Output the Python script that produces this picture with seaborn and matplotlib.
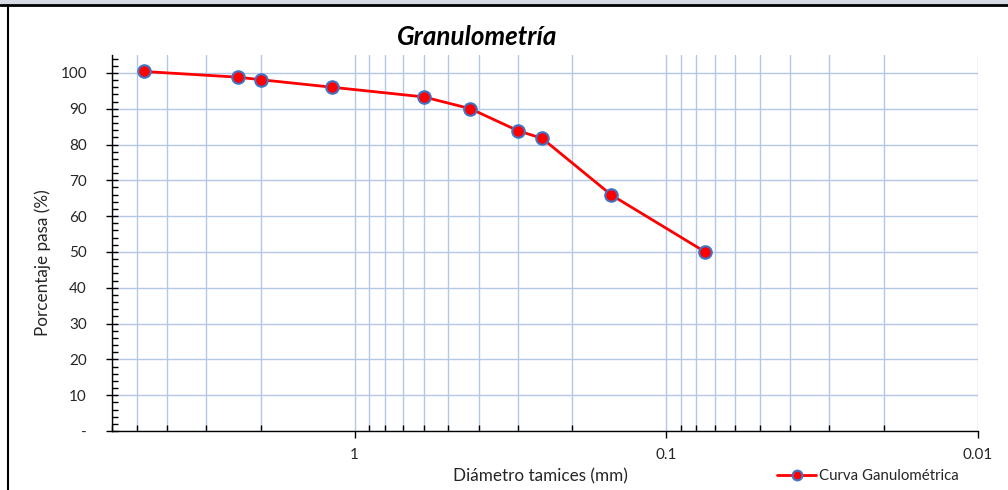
import numpy as np
import pandas as pd
import matplotlib
matplotlib.use("Agg")
import matplotlib.pyplot as plt
import matplotlib.ticker as mticker
from matplotlib.patches import Rectangle
from matplotlib.lines import Line2D
import seaborn as sns

# ---- data ----
diametro_mm = [4.75, 2.36, 2.00, 1.18, 0.60, 0.425, 0.30, 0.25, 0.15, 0.075]
porcentaje_pasa = [100.4, 98.8, 98.1, 96.0, 93.3, 90.0, 83.9, 81.7, 65.9, 50.0]
serie = "Curva Ganulométrica"
titulo = "Granulometría"
xlabel = "Diámetro tamices (mm)"
ylabel = "Porcentaje pasa (%)"
x_major = [1, 0.1, 0.01]
x_major_labels = ["1", "0.1", "0.01"]
y_major = [0, 10, 20, 30, 40, 50, 60, 70, 80, 90, 100]
y_major_labels = ["-", "10", "20", "30", "40", "50", "60", "70", "80", "90", "100"]

df = pd.DataFrame({"d": diametro_mm, "p": porcentaje_pasa, "serie": serie})

sns.set_theme(style="white")
plt.rcParams["font.family"] = ["Lato", "DejaVu Sans"]

W, H = 1008, 490
fig = plt.figure(figsize=(W / 100, H / 100), dpi=100)
ax = fig.add_axes([112 / W, 59 / H, 866 / W, 376 / H])

grid_c = "#B4C7E7"
red = "#FF0000"
edge = "#4472C4"
txt = "#262626"

sns.lineplot(data=df, x="d", y="p", ax=ax, color=red, linewidth=2.0,
             marker="o", markersize=9, markerfacecolor=red,
             markeredgecolor=edge, markeredgewidth=1.5, legend=False,
             zorder=5, sort=False)

ax.set_xscale("log")
ax.set_xlim(6.0, 0.01)
ax.set_ylim(0, 105)

ax.xaxis.set_major_locator(mticker.FixedLocator(x_major))
ax.xaxis.set_major_formatter(mticker.FixedFormatter(x_major_labels))
ax.xaxis.set_minor_locator(mticker.LogLocator(base=10, subs=np.arange(2, 10), numticks=20))
ax.xaxis.set_minor_formatter(mticker.NullFormatter())

ax.yaxis.set_major_locator(mticker.FixedLocator(y_major))
ax.yaxis.set_major_formatter(mticker.FixedFormatter(y_major_labels))
ax.yaxis.set_minor_locator(mticker.MultipleLocator(2))

ax.grid(True, which="major", axis="both", color=grid_c, linewidth=1.0)
ax.grid(True, which="minor", axis="x", color=grid_c, linewidth=1.0)
ax.set_axisbelow(True)

for s in ["top", "right"]:
    ax.spines[s].set_visible(False)
for s in ["left", "bottom"]:
    ax.spines[s].set_color("black")
    ax.spines[s].set_linewidth(1.0)

ax.tick_params(axis="x", which="major", direction="out", length=5, width=1,
               color="black", labelsize=11, labelcolor=txt, pad=7,
               bottom=True)
ax.tick_params(axis="x", which="minor", direction="in", length=4, width=1,
               color="black", bottom=True)
ax.tick_params(axis="y", which="major", direction="inout", length=8, width=1,
               color="black", labelsize=11, labelcolor=txt, pad=14,
               left=True)
ax.tick_params(axis="y", which="minor", direction="in", length=4, width=1,
               color="black", left=True)

ax.set_xlabel(xlabel, fontsize=12.3, color=txt)
ax.set_ylabel(ylabel, fontsize=12.3, color=txt)
ax.xaxis.set_label_coords((540 - 112) / 866, (431 - 476) / 376)
ax.xaxis.label.set_va("center")
ax.yaxis.set_label_coords((43 - 112) / 866, (431 - 263) / 376)
ax.yaxis.label.set_va("center")

fig.text(477 / W, (H - 37) / H, titulo, ha="center", va="center",
         fontsize=18.7, fontweight="bold", fontstyle="italic", color="black")

handle = Line2D([], [], color=red, linewidth=2.0, marker="o", markersize=7,
                markerfacecolor=red, markeredgecolor=edge, markeredgewidth=1.5)
fig.legend([handle], [serie], loc="center left",
           bbox_to_anchor=(777 / W, (H - 476) / H), frameon=False,
           fontsize=10.8, handlelength=2.6, handletextpad=0.2,
           borderpad=0, borderaxespad=0, labelcolor=txt)

# page frame remnants
fig.patches.append(Rectangle((0, (H - 4.5) / H), 1, 4.5 / H,
                             transform=fig.transFigure, facecolor="#D6DBE3",
                             edgecolor="none", zorder=0))
fig.add_artist(Line2D([0, 1], [(H - 5.5) / H, (H - 5.5) / H],
                      transform=fig.transFigure, color="black", linewidth=2.0))
fig.add_artist(Line2D([8 / W, 8 / W], [0, (H - 5.5) / H],
                      transform=fig.transFigure, color="black", linewidth=1.5))

fig.savefig("out.png", dpi=100)
